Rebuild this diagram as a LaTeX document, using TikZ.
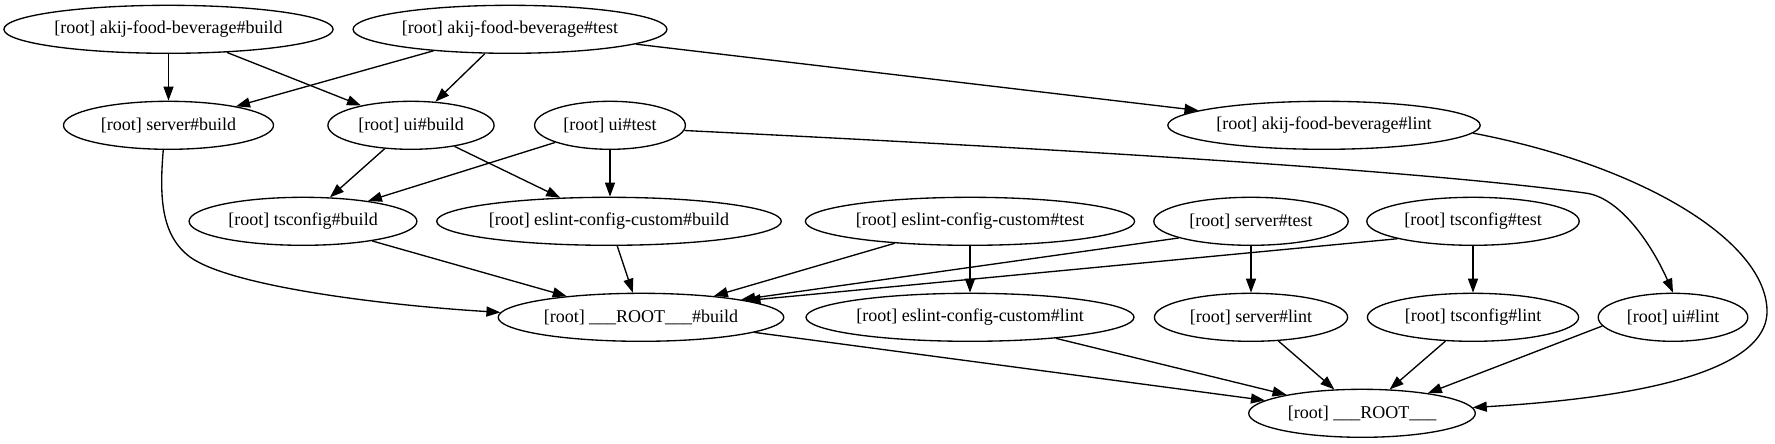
\documentclass[tikz,border=0pt]{standalone}
\usepackage{fontspec}
\setmainfont{Liberation Serif}
\usetikzlibrary{shapes.geometric,arrows.meta}
\tikzset{
  gv/.style={draw, ellipse, line width=1pt, inner sep=0pt, minimum height=36pt,
    minimum width=#1*1.5pt, font=\fontsize{13.5pt}{16pt}\selectfont},
  gvedge/.style={line width=1pt, -{Triangle[length=10.5pt,width=7.5pt]}}
}
\newcommand{\lbl}[1]{\makebox[0pt]{#1}}
\begin{document}
\begin{tikzpicture}[x=0.75pt,y=-0.75pt]
\useasboundingbox (0,0) rectangle (1775,443);
% rank 1
\node[gv=164.6] (afbB) at (168.5,29.3) {\lbl{[root] akij-food-beverage\#build}};
\node[gv=156.9] (afbT) at (510,29.3) {\lbl{[root] akij-food-beverage\#test}};
% rank 2
\node[gv=105] (serverB) at (168.5,125.3) {\lbl{[root] server\#build}};
\node[gv=83.1] (uiB) at (411,125.3) {\lbl{[root] ui\#build}};
\node[gv=75.4] (uiT) at (610,125.3) {\lbl{[root] ui\#test}};
\node[gv=156.2] (afbL) at (1324,125.3) {\lbl{[root] akij-food-beverage\#lint}};
% rank 3
\node[gv=113.9] (tsB) at (303,221.3) {\lbl{[root] tsconfig\#build}};
\node[gv=172.3] (eslB) at (609,221.3) {\lbl{[root] eslint-config-custom\#build}};
\node[gv=164.6] (eslT) at (970,221.3) {\lbl{[root] eslint-config-custom\#test}};
\node[gv=97.2] (serverT) at (1251,221.3) {\lbl{[root] server\#test}};
\node[gv=106.2] (tsT) at (1473,221.3) {\lbl{[root] tsconfig\#test}};
% rank 4
\node[gv=142.8] (rootB) at (641,317.3) {\lbl{[root] \_\_\_ROOT\_\_\_\#build}};
\node[gv=164] (eslL) at (970,317.3) {\lbl{[root] eslint-config-custom\#lint}};
\node[gv=96.6] (serverL) at (1251,317.3) {\lbl{[root] server\#lint}};
\node[gv=105.6] (tsL) at (1473,317.3) {\lbl{[root] tsconfig\#lint}};
\node[gv=74.8] (uiL) at (1673,317.3) {\lbl{[root] ui\#lint}};
% rank 5
\node[gv=113.3] (ROOT) at (1362,413.3) {\lbl{[root] \_\_\_ROOT\_\_\_}};

% edges
\draw[gvedge] (afbB.south) -- (serverB.north);
\draw[gvedge] (afbB) -- (uiB);
\draw[gvedge] (afbT) -- (serverB);
\draw[gvedge] (afbT) -- (uiB);
\draw[gvedge] (afbT) -- (afbL);
\draw[gvedge] (uiB) -- (tsB);
\draw[gvedge] (uiB) -- (eslB);
\draw[gvedge] (uiT) -- (tsB);
\draw[gvedge] (uiT.south) -- (uiT.south |- eslB.north);
\draw[gvedge] (uiT.-4) .. controls (1000,146) and (1400,168) .. (1585,193)
  .. controls (1620,197) and (1652,245) .. (uiL.north);
\draw[gvedge] (serverB.-102) .. controls (159,200) and (162,236) .. (190,257)
  .. controls (230,286) and (380,305) .. (rootB.178);
\draw[gvedge] (tsB) -- (rootB);
\draw[gvedge] (eslB) -- (rootB);
\draw[gvedge] (eslT) -- (rootB);
\draw[gvedge] (eslT) -- (eslL);
\draw[gvedge] (serverT.193) -- (rootB.10);
\draw[gvedge] (serverT) -- (serverL);
\draw[gvedge] (tsT.193) -- (rootB.9);
\draw[gvedge] (tsT) -- (tsL);
\draw[gvedge] (afbL.-3) .. controls (1640,165) and (1765,240) .. (1767,310)
  .. controls (1769,380) and (1600,400) .. (ROOT.3);
\draw[gvedge] (rootB) -- (ROOT);
\draw[gvedge] (eslL) -- (ROOT);
\draw[gvedge] (serverL) -- (ROOT);
\draw[gvedge] (tsL) -- (ROOT);
\draw[gvedge] (uiL.187) -- (ROOT.17);
\end{tikzpicture}
\end{document}
